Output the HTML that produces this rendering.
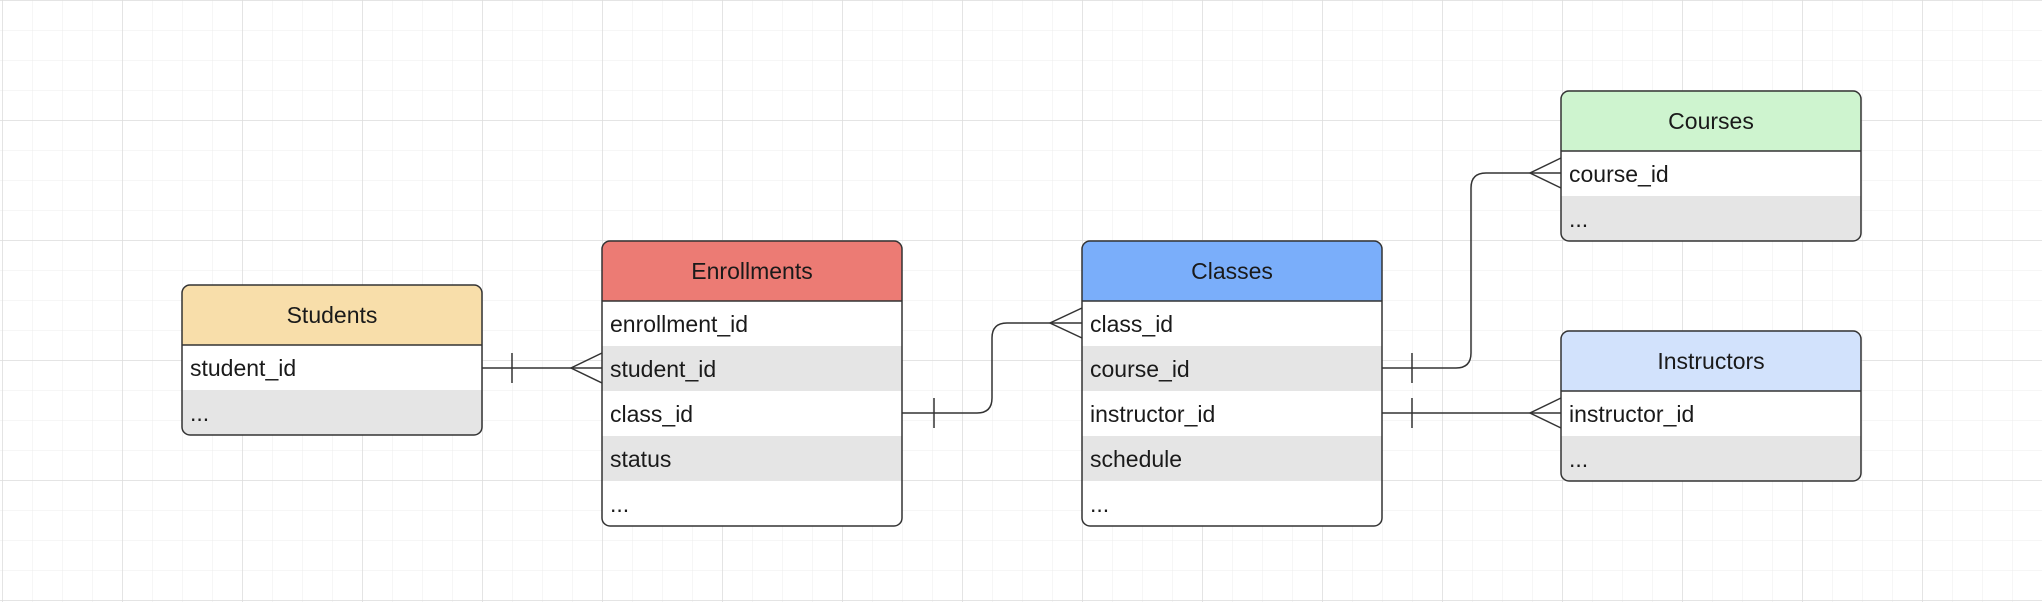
<!DOCTYPE html>
<html><head><meta charset="utf-8"><style>
html,body{margin:0;padding:0;background:#fff}
svg{display:block}
text{font-family:"Liberation Sans",sans-serif;font-size:23px;fill:#1a1a1a}
</style></head><body>
<svg width="2042" height="602" viewBox="0 0 2042 602" xmlns="http://www.w3.org/2000/svg">
<defs>
<pattern id="minor" width="30" height="30" patternUnits="userSpaceOnUse" x="2" y="0">
<path d="M0 0V30M0 0H30" stroke="#ececec" stroke-width="1" fill="none"/>
</pattern>
<pattern id="major" width="120" height="120" patternUnits="userSpaceOnUse" x="2" y="0">
<path d="M0 0V120M0 0H120" stroke="#dcdcdc" stroke-width="1.5" fill="none"/>
</pattern>
</defs>
<rect width="2042" height="602" fill="url(#minor)"/>
<rect width="2042" height="602" fill="url(#major)"/>

<g stroke="#333" stroke-width="1.5" fill="none">
<path d="M482 368H602"/>
<path d="M512 353V383"/>
<path d="M602 353L571 368L602 383"/>
<path d="M902 413H977Q992 413 992 398V338Q992 323 1007 323H1082"/>
<path d="M934 398V428"/>
<path d="M1082 308L1050 323L1082 338"/>
<path d="M1382 368H1456Q1471 368 1471 353V188Q1471 173 1486 173H1561"/>
<path d="M1412 353V383"/>
<path d="M1561 158L1530 173L1561 188"/>
<path d="M1382 413H1561"/>
<path d="M1412 398V428"/>
<path d="M1561 398L1530 413L1561 428"/>
</g>

<g>
<path d="M182 345V293Q182 285 190 285H474Q482 285 482 293V345Z" fill="#f8deaa"/>
<rect x="182" y="345" width="300" height="45" fill="#fff"/>
<path d="M182 390H482V427Q482 435 474 435H190Q182 435 182 427Z" fill="#e5e5e5"/>
<rect x="182" y="285" width="300" height="150" rx="8" fill="none" stroke="#333" stroke-width="1.5"/>
<path d="M182 345H482" stroke="#333" stroke-width="1.5"/>
<text x="332" y="323" text-anchor="middle">Students</text>
<text x="190" y="376">student_id</text>
<text x="190" y="421">...</text>
</g>

<g>
<path d="M602 301V249Q602 241 610 241H894Q902 241 902 249V301Z" fill="#ec7b74"/>
<rect x="602" y="301" width="300" height="45" fill="#fff"/>
<rect x="602" y="346" width="300" height="45" fill="#e5e5e5"/>
<rect x="602" y="391" width="300" height="45" fill="#fff"/>
<rect x="602" y="436" width="300" height="45" fill="#e5e5e5"/>
<path d="M602 481H902V518Q902 526 894 526H610Q602 526 602 518Z" fill="#fff"/>
<rect x="602" y="241" width="300" height="285" rx="8" fill="none" stroke="#333" stroke-width="1.5"/>
<path d="M602 301H902" stroke="#333" stroke-width="1.5"/>
<text x="752" y="279" text-anchor="middle">Enrollments</text>
<text x="610" y="332">enrollment_id</text>
<text x="610" y="377">student_id</text>
<text x="610" y="422">class_id</text>
<text x="610" y="467">status</text>
<text x="610" y="512">...</text>
</g>

<g>
<path d="M1082 301V249Q1082 241 1090 241H1374Q1382 241 1382 249V301Z" fill="#7aaefa"/>
<rect x="1082" y="301" width="300" height="45" fill="#fff"/>
<rect x="1082" y="346" width="300" height="45" fill="#e5e5e5"/>
<rect x="1082" y="391" width="300" height="45" fill="#fff"/>
<rect x="1082" y="436" width="300" height="45" fill="#e5e5e5"/>
<path d="M1082 481H1382V518Q1382 526 1374 526H1090Q1082 526 1082 518Z" fill="#fff"/>
<rect x="1082" y="241" width="300" height="285" rx="8" fill="none" stroke="#333" stroke-width="1.5"/>
<path d="M1082 301H1382" stroke="#333" stroke-width="1.5"/>
<text x="1232" y="279" text-anchor="middle">Classes</text>
<text x="1090" y="332">class_id</text>
<text x="1090" y="377">course_id</text>
<text x="1090" y="422">instructor_id</text>
<text x="1090" y="467">schedule</text>
<text x="1090" y="512">...</text>
</g>

<g>
<path d="M1561 151V99Q1561 91 1569 91H1853Q1861 91 1861 99V151Z" fill="#cef4cf"/>
<rect x="1561" y="151" width="300" height="45" fill="#fff"/>
<path d="M1561 196H1861V233Q1861 241 1853 241H1569Q1561 241 1561 233Z" fill="#e5e5e5"/>
<rect x="1561" y="91" width="300" height="150" rx="8" fill="none" stroke="#333" stroke-width="1.5"/>
<path d="M1561 151H1861" stroke="#333" stroke-width="1.5"/>
<text x="1711" y="129" text-anchor="middle">Courses</text>
<text x="1569" y="182">course_id</text>
<text x="1569" y="227">...</text>
</g>

<g>
<path d="M1561 391V339Q1561 331 1569 331H1853Q1861 331 1861 339V391Z" fill="#d2e2fc"/>
<rect x="1561" y="391" width="300" height="45" fill="#fff"/>
<path d="M1561 436H1861V473Q1861 481 1853 481H1569Q1561 481 1561 473Z" fill="#e5e5e5"/>
<rect x="1561" y="331" width="300" height="150" rx="8" fill="none" stroke="#333" stroke-width="1.5"/>
<path d="M1561 391H1861" stroke="#333" stroke-width="1.5"/>
<text x="1711" y="369" text-anchor="middle">Instructors</text>
<text x="1569" y="422">instructor_id</text>
<text x="1569" y="467">...</text>
</g>
</svg>
</body></html>
